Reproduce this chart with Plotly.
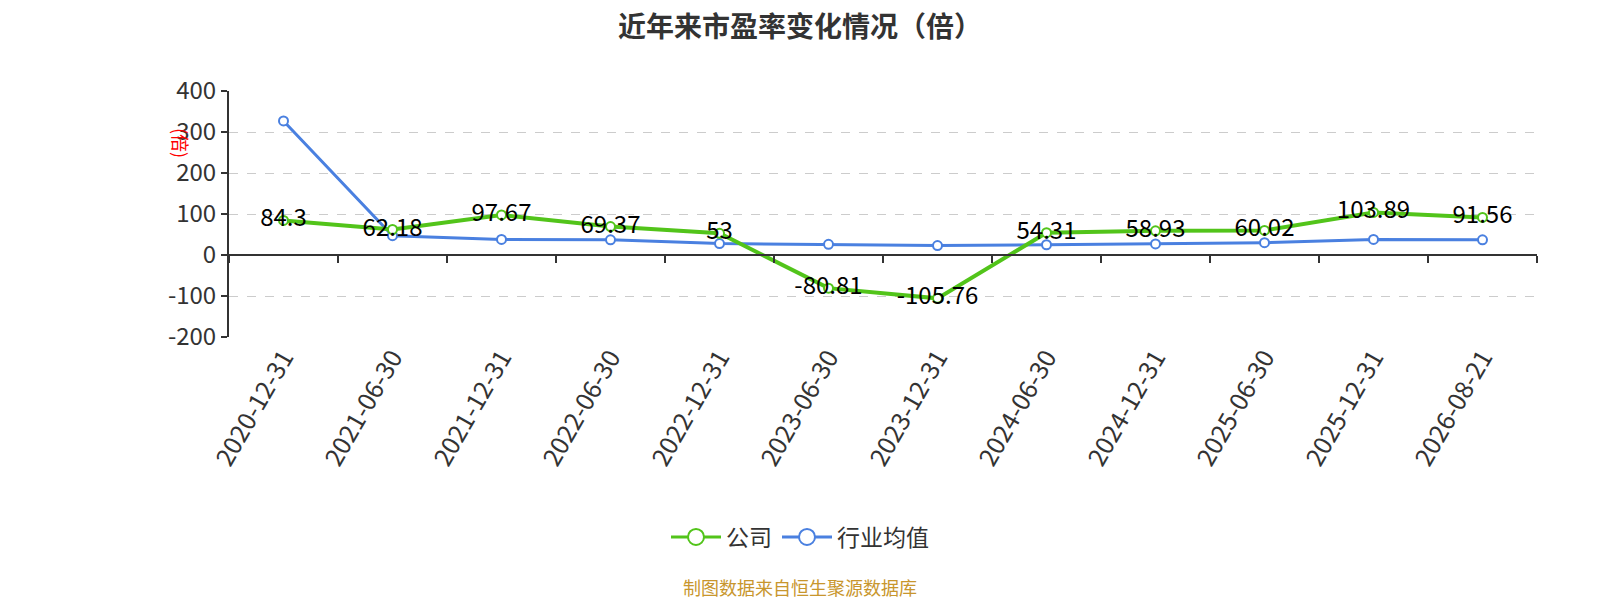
import plotly.graph_objects as go

# data
dates = ["2020-12-31", "2021-06-30", "2021-12-31", "2022-06-30", "2022-12-31", "2023-06-30",
         "2023-12-31", "2024-06-30", "2024-12-31", "2025-06-30", "2025-12-31", "2026-08-21"]
company_pe = [84.3, 62.18, 97.67, 69.37, 53, -80.81, -105.76, 54.31, 58.93, 60.02, 103.89, 91.56]
industry_pe = [327, 47, 38, 37, 28, 26, 23, 25, 27, 30, 38, 37]
y_ticks = [-200, -100, 0, 100, 200, 300, 400]

GREEN = "#52C41A"
BLUE = "#4A80E0"
FONT = "Noto Sans CJK SC"

# page body has an 8px margin, so the figure is a bit smaller and everything is shifted
W, H = 1584, 592
L, R, T, B = 221, 55, 83, 263
plot_h = H - T - B
plot_w = W - L - R


def px_x(x):
    return (x - L) / plot_w


def px_y(y):
    return (H - B - y) / plot_h


fig = go.Figure()

# industry average first so the company line sits on top
fig.add_trace(go.Scatter(
    x=dates, y=industry_pe, name="行业均值", mode="lines+markers",
    line=dict(color=BLUE, width=3),
    marker=dict(symbol="circle", size=9, color="white", line=dict(color=BLUE, width=2)),
    showlegend=False, xaxis="x", yaxis="y",
))

fig.add_trace(go.Scatter(
    x=dates, y=company_pe, name="公司", mode="lines+markers+text",
    line=dict(color=GREEN, width=4),
    marker=dict(symbol="circle", size=9, color="white", line=dict(color=GREEN, width=2)),
    text=[f"{v:g}" for v in company_pe], textposition="middle center",
    textfont=dict(size=24, color="#000000", family=FONT),
    showlegend=False, xaxis="x2", yaxis="y",
))

# legend entries with bigger symbols
for name, color in [("公司", GREEN), ("行业均值", BLUE)]:
    fig.add_trace(go.Scatter(
        x=[None], y=[None], name=name, mode="lines+markers",
        line=dict(color=color, width=3),
        marker=dict(symbol="circle", size=16, color="white", line=dict(color=color, width=2)),
        xaxis="x", yaxis="y",
    ))

cat_axis = dict(type="category", categoryorder="array", categoryarray=dates, range=[-0.5, len(dates) - 0.5])

fig.update_layout(
    width=W, height=H,
    paper_bgcolor="white", plot_bgcolor="white",
    margin=dict(l=L, r=R, t=T, b=B),
    font=dict(family=FONT, color="#333333"),
    title=dict(text="<b>近年来市盈率变化情况（倍）</b>", x=0.5, xanchor="center",
               y=1 - 19 / H, yanchor="middle",
               font=dict(size=28, color="#333333", family=FONT)),
    xaxis=dict(**cat_axis, tickangle=-60, tickfont=dict(size=25, color="#333333"),
               showline=False, showgrid=False, ticks="", zeroline=False),
    # second x axis only draws the axis line with ticks at y = 0
    xaxis2=dict(**cat_axis, overlaying="x", anchor="free", position=200 / 600, side="bottom",
                showline=True, linecolor="#333333", linewidth=2,
                ticks="outside", tickson="boundaries", ticklen=7, tickwidth=2, tickcolor="#333333",
                showticklabels=False, showgrid=False, zeroline=False),
    yaxis=dict(range=[-200, 400], tickvals=y_ticks, ticktext=[str(v) for v in y_ticks],
               tickfont=dict(size=24, color="#333333"),
               showline=True, linecolor="#333333", linewidth=2,
               ticks="outside", ticklen=6, tickwidth=2, tickcolor="#333333",
               showgrid=True, gridcolor="#CCCCCC", griddash="dash", gridwidth=1,
               zeroline=False),
    legend=dict(orientation="h", x=px_x(792), xanchor="center", y=px_y(529), yanchor="middle",
                font=dict(size=23, color="#333333"), itemwidth=50, bgcolor="rgba(0,0,0,0)"),
    showlegend=True,
)

fig.add_annotation(text="(倍)", xref="paper", yref="paper", x=px_x(158), y=px_y(118),
                   showarrow=False, textangle=90, font=dict(size=18, color="#FF0000", family=FONT))

fig.add_annotation(text="制图数据来自恒生聚源数据库", xref="paper", yref="paper", x=px_x(792), y=px_y(579),
                   showarrow=False, xanchor="center", yanchor="middle",
                   font=dict(size=18, color="#C8962D", family=FONT))

fig.write_html("out.html")
